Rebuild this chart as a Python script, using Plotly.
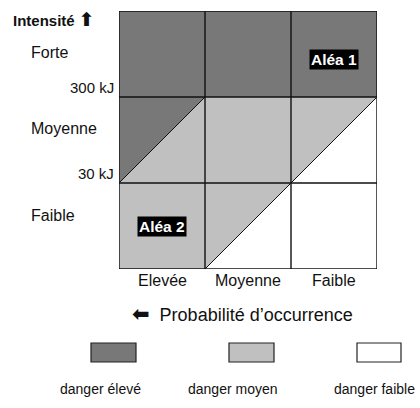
import plotly.graph_objects as go

# ---- data ----
prob_labels = ["Elevée", "Moyenne", "Faible"]          # columns, left to right
intensity_labels = ["Faible", "Moyenne", "Forte"]      # rows, bottom to top
threshold_labels = ["30 kJ", "300 kJ"]                 # boundaries between rows
danger_names = ["danger élevé", "danger moyen", "danger faible"]
# danger level per cell: upper-left triangle / lower-right triangle (0=élevé,1=moyen,2=faible)
upper_danger = [[1, 1, 2],
                [0, 1, 1],
                [0, 0, 0]]
lower_danger = [[1, 2, 2],
                [1, 1, 2],
                [0, 0, 0]]
alea_names = ["Aléa 1", "Aléa 2"]
alea_cells = [(2, 2), (0, 0)]   # (col, row)

# ---- styling ----
colors = ["#787878", "#c0c0c0", "#ffffff"]
W, H = 420, 408
L, R, T, B = 119, 377, 11, 269
FONT = "Liberation Sans, Arial, DejaVu Sans, sans-serif"

def px(x):
    return (x - L) / (R - L)

def py(y):
    return (B - y) / (B - T)

fig = go.Figure()
ncol, nrow = len(prob_labels), len(intensity_labels)

for r in range(nrow):
    for c in range(ncol):
        up, lo = upper_danger[r][c], lower_danger[r][c]
        fig.add_trace(go.Scatter(x=[c, c + 1, c + 1, c, c], y=[r, r, r + 1, r + 1, r], fill="toself",
                                 fillcolor=colors[lo], line=dict(width=0), mode="lines",
                                 hoverinfo="skip", showlegend=False))
        if up != lo:
            fig.add_trace(go.Scatter(x=[c, c, c + 1, c], y=[r, r + 1, r + 1, r], fill="toself",
                                     fillcolor=colors[up], line=dict(width=0), mode="lines",
                                     hoverinfo="skip", showlegend=False))
            fig.add_trace(go.Scatter(x=[c, c + 1], y=[r, r + 1], mode="lines",
                                     line=dict(color="#111", width=1),
                                     hoverinfo="skip", showlegend=False))

# grid lines
for i in range(ncol + 1):
    fig.add_shape(type="line", x0=i, x1=i, y0=0, y1=nrow, line=dict(color="#111", width=1.4))
for j in range(nrow + 1):
    fig.add_shape(type="line", x0=0, x1=ncol, y0=j, y1=j, line=dict(color="#111", width=1.4))

# row labels
for j, lab in enumerate(intensity_labels):
    yy = [215, 128, 53][j]
    fig.add_annotation(x=px(29), y=py(yy), xref="paper", yref="paper", text=lab,
                       showarrow=False, xanchor="left", yanchor="middle",
                       font=dict(size=16, family=FONT, color="#111"))
for j, lab in enumerate(threshold_labels):
    fig.add_annotation(x=px(116), y=j + 1 + 0.11, xref="paper", yref="y", text=lab,
                       showarrow=False, xanchor="right", yanchor="middle",
                       font=dict(size=15, family=FONT, color="#111"))
fig.add_annotation(x=px(11), y=py(20), xref="paper", yref="paper",
                   text="<b>Intensité </b><span style='font-size:19px'><b>⬆</b></span>",
                   showarrow=False, xanchor="left", yanchor="middle",
                   font=dict(size=15, family=FONT, color="#111"))

# column labels
for i, lab in enumerate(prob_labels):
    fig.add_annotation(x=i + 0.5, y=py(280), xref="x", yref="paper", text=lab,
                       showarrow=False, xanchor="center", yanchor="middle",
                       font=dict(size=16, family=FONT, color="#111"))
fig.add_annotation(x=px(242), y=py(313), xref="paper", yref="paper",
                   text="<span style='font-size:21px'><b>⬅</b></span>  Probabilité d’occurrence",
                   showarrow=False, xanchor="center", yanchor="middle",
                   font=dict(size=18, family=FONT, color="#111"))

# aléa labels
for name, (c, r), (cx, cy) in zip(alea_names, alea_cells, [(334, 59), (162, 227)]):
    fig.add_annotation(x=px(cx), y=py(cy), xref="paper", yref="paper", text="<b>" + name + "</b>",
                       showarrow=False, xanchor="center", yanchor="middle", bgcolor="#000",
                       borderpad=1, font=dict(size=15.5, family=FONT, color="#fff"))

# legend
box_x = [(91, 136), (229, 274), (357, 401)]
lab_x = [100, 233, 374]
for k, name in enumerate(danger_names):
    x0, x1 = box_x[k]
    fig.add_shape(type="rect", xref="paper", yref="paper", x0=px(x0), x1=px(x1),
                  y0=py(343), y1=py(362), fillcolor=colors[k], line=dict(color="#222", width=1.2))
    fig.add_annotation(x=px(lab_x[k]), y=py(389), xref="paper", yref="paper", text=name,
                       showarrow=False, xanchor="center", yanchor="middle",
                       font=dict(size=14, family=FONT, color="#111"))

fig.update_xaxes(range=[0, ncol], visible=False, fixedrange=True)
fig.update_yaxes(range=[0, nrow], visible=False, fixedrange=True)
fig.update_layout(width=W, height=H, margin=dict(l=L, r=W - R, t=T, b=H - B, pad=0),
                  paper_bgcolor="white", plot_bgcolor="white", showlegend=False)
fig.write_html("out.html", config={"displayModeBar": False},
               post_script="document.body.style.margin='0';document.body.style.padding='0';")
